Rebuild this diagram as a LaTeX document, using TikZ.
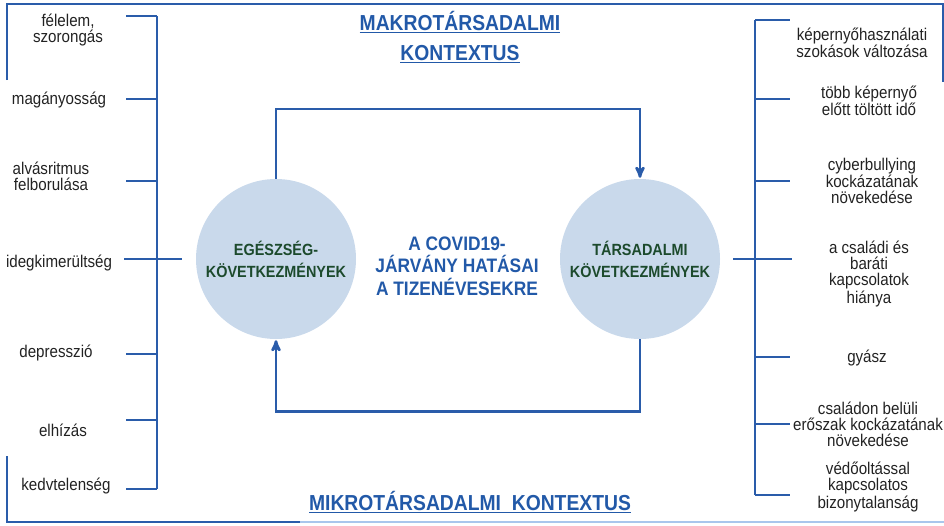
\documentclass[tikz,border=0pt]{standalone}
\usepackage{fontspec}
\setmainfont[FakeStretch=0.89]{Liberation Sans}
\usetikzlibrary{arrows,positioning,shapes}
\definecolor{frameblue}{HTML}{2A5CAA}
\definecolor{lightframe}{HTML}{A9C6EC}
\definecolor{circlefill}{HTML}{C9D9EB}
\definecolor{circletext}{HTML}{1C4A2C}
\definecolor{headblue}{HTML}{2259A8}
\definecolor{labeltext}{HTML}{222222}

\begin{document}
\begin{tikzpicture}
	[ x=1pt,y=-1pt,
		effect/.style={circle,fill=circlefill,minimum size=160pt,inner sep=0pt,align=center,text=circletext,font=\fontsize{16.2}{22}\selectfont\bfseries},
		symptom/.style={align=center,text=labeltext,inner sep=1pt,font=\fontsize{17}{16}\selectfont},
		context/.style={align=center,text=headblue,font=\fontsize{21.7}{30}\selectfont\bfseries},
		bracket/.style={frameblue,line width=2.6pt},
		arrowOut/.style={->,shorten >=1pt,>=stealth',line width=2.6pt,frameblue}]

	\useasboundingbox (0,0) rectangle (944,525);

	% frame
	\draw[bracket] (7,80) -- (7,4) -- (943,4) -- (943,82);
	\draw[bracket] (7,456) -- (7,522) -- (300,522);
	\draw[lightframe,line width=2.6pt] (300,522) -- (944,522);

	\node[context] (macro) at (460,37) {\underline{MAKROTÁRSADALMI}\\\underline{KONTEXTUS}};
	\node[context] (micro) at (470,502) {\underline{MIKROTÁRSADALMI\ \ KONTEXTUS}};

	\node[effect] (health) at (276,259) {EGÉSZSÉG-\\KÖVETKEZMÉNYEK};
	\node[effect] (social) at (640,259) {TÁRSADALMI\\KÖVETKEZMÉNYEK};
	\node[align=center,text=headblue,font=\fontsize{19.5}{22.5}\selectfont\bfseries] (impact) at (457,266) {A COVID19-\\JÁRVÁNY HATÁSAI\\A TIZENÉVESEKRE};

	\draw[arrowOut] (health.north) -- ++(0,-70) -| (social.north);
	\draw[arrowOut] (social.south) -- ++(0,72) -| (health.south);

	% health side
	\node[symptom] (fear) at (68,30) {félelem,\\szorongás};
	\node[symptom] (lonely) at (59,100) {magányosság};
	\node[symptom] (sleep) at (51,176) {alvásritmus\\felborulása};
	\node[symptom] (exhaust) at (59,263) {idegkimerültség};
	\node[symptom] (depr) at (56,353) {depresszió};
	\node[symptom] (obesity) at (63,430) {elhízás};
	\node[symptom] (listless) at (66,486) {kedvtelenség};

	\foreach \t/\y in {1/16,2/99,3/181,4/262,5/354,6/420,7/489}
		\coordinate (hs\t) at (157,\y);
	\draw[bracket] (hs1) -- (hs7);
	\foreach \t in {1,2,3,5,6,7}
		\draw[bracket] (hs\t) -- ++(-31,0);
	\draw[bracket,shorten <=14pt] (health.west) -- ++(-72,0);

	% social side
	\node[symptom] (habits) at (862,43) {képernyőhasználati\\szokások változása};
	\node[symptom] (screen) at (869,101) {több képernyő\\előtt töltött idő};
	\node[symptom] (bully) at (872,181) {cyberbullying\\kockázatának\\növekedése};
	\node[symptom] (friends) at (869,274) {a családi és\\baráti\\kapcsolatok\\hiánya};
	\node[symptom] (grief) at (867,358) {gyász};
	\node[symptom] (violence) at (868,424) {családon belüli\\erőszak kockázatának\\növekedése};
	\node[symptom] (vaccine) at (868,487) {védőoltással\\kapcsolatos\\bizonytalanság};

	\foreach \t/\y in {1/20,2/99,3/181,4/261,5/357,6/424,7/495}
		\coordinate (ss\t) at (755,\y);
	\draw[bracket] (ss1) -- (ss7);
	\foreach \t in {1,2,3,5,6,7}
		\draw[bracket] (ss\t) -- ++(35,0);
	\draw[bracket,shorten <=13pt] (social.east) -- ++(72,0);
\end{tikzpicture}
\end{document}
